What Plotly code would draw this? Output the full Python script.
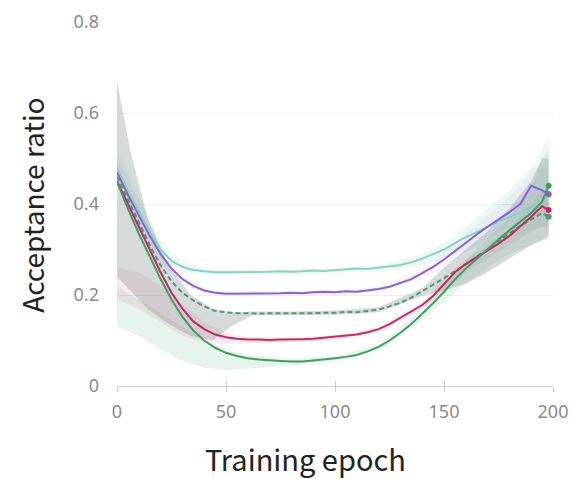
import plotly.graph_objects as go

# ---- data ----
epochs = [0, 5, 10, 15, 20, 25, 30, 35, 40, 45, 50, 55, 60, 65, 70, 75, 80, 85, 90, 95,
          100, 105, 110, 115, 120, 125, 130, 135, 140, 145, 150, 155, 160, 165, 170, 175,
          180, 185, 190, 195, 198]

teal = [0.48, 0.43, 0.385, 0.34, 0.30, 0.275, 0.262, 0.255, 0.252, 0.250, 0.250, 0.250, 0.251,
        0.250, 0.251, 0.252, 0.251, 0.252, 0.254, 0.253, 0.255, 0.256, 0.258, 0.257, 0.260,
        0.262, 0.266, 0.272, 0.280, 0.290, 0.300, 0.314, 0.327, 0.338, 0.350, 0.362, 0.372,
        0.383, 0.395, 0.408, 0.420]
purple = [0.47, 0.42, 0.375, 0.33, 0.29, 0.258, 0.235, 0.220, 0.210, 0.205, 0.203, 0.203, 0.204,
          0.203, 0.203, 0.204, 0.205, 0.204, 0.206, 0.207, 0.206, 0.208, 0.207, 0.210, 0.213,
          0.218, 0.226, 0.235, 0.248, 0.262, 0.278, 0.297, 0.316, 0.333, 0.350, 0.366, 0.382,
          0.400, 0.440, 0.430, 0.422]
green_dashed = [0.46, 0.41, 0.36, 0.31, 0.265, 0.23, 0.205, 0.188, 0.175, 0.165, 0.162, 0.160,
                0.160, 0.159, 0.160, 0.160, 0.159, 0.160, 0.160, 0.161, 0.161, 0.163, 0.162,
                0.165, 0.168, 0.175, 0.183, 0.194, 0.208, 0.222, 0.237, 0.252, 0.268, 0.284,
                0.300, 0.318, 0.335, 0.352, 0.366, 0.380, 0.372]
crimson = [0.45, 0.40, 0.35, 0.30, 0.25, 0.205, 0.170, 0.142, 0.125, 0.113, 0.107, 0.104, 0.102,
           0.102, 0.101, 0.102, 0.102, 0.103, 0.104, 0.106, 0.108, 0.111, 0.113, 0.118, 0.125,
           0.136, 0.150, 0.163, 0.178, 0.198, 0.225, 0.250, 0.268, 0.283, 0.298, 0.313, 0.330,
           0.350, 0.372, 0.395, 0.387]
green = [0.45, 0.39, 0.335, 0.285, 0.235, 0.19, 0.152, 0.122, 0.100, 0.084, 0.073, 0.066, 0.061,
         0.058, 0.056, 0.055, 0.054, 0.054, 0.056, 0.058, 0.061, 0.064, 0.068, 0.076, 0.086,
         0.100, 0.117, 0.136, 0.158, 0.182, 0.207, 0.234, 0.258, 0.280, 0.302, 0.322, 0.342,
         0.362, 0.380, 0.405, 0.440]

band_x = [0, 10, 20, 30, 40, 50, 60, 80, 100, 120, 140, 150, 160, 170, 180, 190, 195, 198]
teal_hi = [0.52, 0.42, 0.32, 0.275, 0.258, 0.255, 0.255, 0.256, 0.260, 0.266, 0.29, 0.315, 0.35, 0.39, 0.43, 0.48, 0.52, 0.55]
teal_lo = [0.44, 0.35, 0.28, 0.25, 0.246, 0.245, 0.246, 0.246, 0.249, 0.253, 0.265, 0.28, 0.295, 0.31, 0.33, 0.34, 0.35, 0.35]
purple_hi = [0.50, 0.41, 0.31, 0.245, 0.216, 0.208, 0.208, 0.209, 0.211, 0.219, 0.26, 0.295, 0.335, 0.375, 0.415, 0.47, 0.48, 0.47]
purple_lo = [0.44, 0.34, 0.27, 0.225, 0.204, 0.198, 0.199, 0.200, 0.201, 0.207, 0.235, 0.26, 0.295, 0.325, 0.35, 0.38, 0.38, 0.37]
crimson_hi = [0.26, 0.25, 0.22, 0.18, 0.14, 0.118, 0.108, 0.107, 0.112, 0.130, 0.185, 0.235, 0.28, 0.31, 0.345, 0.40, 0.43, 0.42]
crimson_lo = [0.19, 0.17, 0.14, 0.11, 0.095, 0.092, 0.094, 0.096, 0.101, 0.118, 0.168, 0.205, 0.25, 0.28, 0.31, 0.34, 0.35, 0.35]
green_hi = [0.22, 0.19, 0.16, 0.13, 0.10, 0.08, 0.068, 0.06, 0.066, 0.092, 0.17, 0.225, 0.275, 0.325, 0.37, 0.43, 0.50, 0.52]
green_lo = [0.13, 0.11, 0.08, 0.055, 0.04, 0.035, 0.038, 0.046, 0.055, 0.078, 0.145, 0.185, 0.225, 0.26, 0.29, 0.31, 0.32, 0.32]

gray_x = [0, 6, 14, 24, 34, 44, 52, 62, 80, 100, 120, 140, 150, 160, 170, 180, 190, 195, 198]
gray_hi = [0.67, 0.52, 0.37, 0.26, 0.20, 0.17, 0.162, 0.164, 0.164, 0.166, 0.173, 0.215, 0.26, 0.30, 0.34, 0.39, 0.45, 0.50, 0.50]
gray_lo = [0.24, 0.21, 0.17, 0.135, 0.11, 0.10, 0.13, 0.155, 0.155, 0.156, 0.162, 0.198, 0.21, 0.225, 0.25, 0.28, 0.31, 0.32, 0.33]

x_ticks = [0, 50, 100, 150, 200]
y_ticks = [0, 0.2, 0.4, 0.6, 0.8]
y_tick_text = ["0", "0.2", "0.4", "0.6", "0.8"]
x_title = "Training epoch"
y_title = "Acceptance ratio"

# ---- figure ----
fig = go.Figure()

bands = [
    (band_x, green_lo, green_hi, "rgba(70,170,110,0.13)"),
    (band_x, crimson_lo, crimson_hi, "rgba(200,60,120,0.10)"),
    (gray_x, gray_lo, gray_hi, "rgba(120,132,132,0.30)"),
    (band_x, purple_lo, purple_hi, "rgba(141,95,211,0.07)"),
    (band_x, teal_lo, teal_hi, "rgba(125,207,182,0.14)"),
]
for bx, lo, hi, col in bands:
    fig.add_trace(go.Scatter(x=bx, y=lo, mode="lines", line=dict(width=0),
                             hoverinfo="skip", showlegend=False))
    fig.add_trace(go.Scatter(x=bx, y=hi, mode="lines", line=dict(width=0),
                             fill="tonexty", fillcolor=col, hoverinfo="skip",
                             showlegend=False))

series = [
    (teal, "#86d4c0", "solid"),
    (purple, "#8a5fd0", "solid"),
    (green_dashed, "#4f9a72", "5px,3px"),
    (crimson, "#c42a62", "solid"),
    (green, "#3f9d5e", "solid"),
]
for ys, col, dash in series:
    fig.add_trace(go.Scatter(x=epochs, y=ys, mode="lines",
                             line=dict(color=col, width=2, dash=dash),
                             showlegend=False))
    fig.add_trace(go.Scatter(x=[epochs[-1]], y=[ys[-1]], mode="markers",
                             marker=dict(color=col, size=6), showlegend=False))

# invisible trace for second x axis (inside ticks)
fig.add_trace(go.Scatter(x=[0], y=[0], xaxis="x2", mode="markers",
                         marker=dict(opacity=0), hoverinfo="skip", showlegend=False))

tick_font = dict(family="Noto Sans, sans-serif", size=18, color="#8a8a8a")
title_font_x = dict(family="Noto Sans CJK JP, Noto Sans, sans-serif", size=29, color="#222222")
title_font_y = dict(family="Noto Sans CJK JP, Noto Sans, sans-serif", size=28, color="#222222")

fig.update_layout(
    width=571, height=479,
    margin=dict(l=117, r=18, t=22, b=93),
    paper_bgcolor="white", plot_bgcolor="white",
    xaxis=dict(range=[0, 200], tickvals=x_ticks, ticks="outside", ticklen=5,
               tickcolor="#cccccc", tickwidth=1, showgrid=False, zeroline=False,
               showline=True, linecolor="#cccccc", linewidth=1, automargin=False,
               tickfont=tick_font, ticklabelstandoff=4),
    xaxis2=dict(range=[0, 200], overlaying="x", side="bottom", tickvals=x_ticks,
                ticks="inside", ticklen=5, tickcolor="#cccccc", showticklabels=False,
                showgrid=False, zeroline=False, showline=False, automargin=False),
    yaxis=dict(range=[0, 0.8], tickvals=y_ticks, ticktext=y_tick_text, ticks="",
               showgrid=True, gridcolor="#efefef", gridwidth=1, zeroline=False,
               showline=False, tickfont=tick_font, ticklabelstandoff=17, automargin=False),
    annotations=[
        dict(text=x_title, xref="paper", yref="paper", x=0.433, y=0, xanchor="center",
             yanchor="middle", yshift=-72, showarrow=False, font=title_font_x),
        dict(text=y_title, xref="paper", yref="paper", x=0, y=0.495, xanchor="center",
             yanchor="middle", xshift=-85, textangle=-90, showarrow=False, font=title_font_y),
    ],
)

fig.write_html("out.html", config={"displayModeBar": False},
               post_script="document.body.style.margin='0';document.body.style.overflow='hidden';")
